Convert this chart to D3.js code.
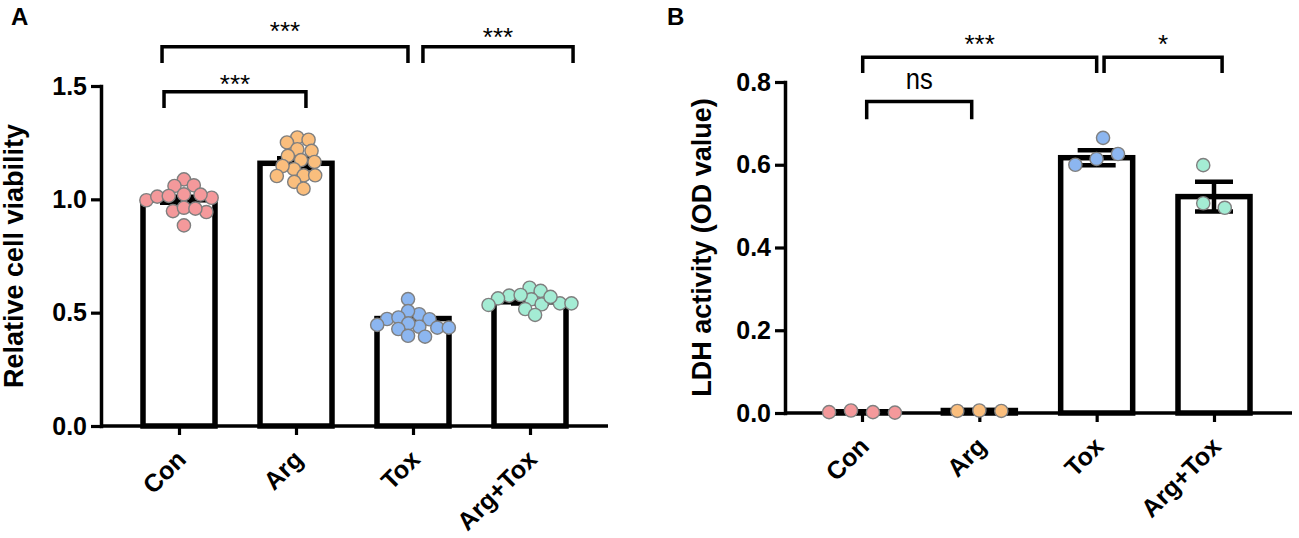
<!DOCTYPE html>
<html><head><meta charset="utf-8">
<script src="https://cdn.jsdelivr.net/npm/d3@7"></script>
<style>body{margin:0;background:#fff} svg{display:block}</style>
</head><body>
<svg id="c" width="1299" height="538"></svg>
<script>
// ---------- DATA ----------
const categories = ["Con", "Arg", "Tox", "Arg+Tox"];
const groupColors = ["#F4999B", "#FABE7D", "#8CB6F0", "#A4ECD4"];

// Panel A: relative cell viability
const viabilityCon = [1.088, 1.062, 1.059, 1.007, 0.996, 1.012, 1.021, 1.022, 1.015, 0.948, 0.963, 0.944, 0.959, 0.885];
const viabilityArg = [1.273, 1.263, 1.251, 1.214, 1.221, 1.192, 1.165, 1.173, 1.133, 1.147, 1.106, 1.103, 1.106, 1.077, 1.047];
const viabilityTox = [0.560, 0.493, 0.507, 0.471, 0.472, 0.479, 0.446, 0.434, 0.438, 0.453, 0.434, 0.428, 0.394, 0.398];
const viabilityArgTox = [0.610, 0.596, 0.559, 0.575, 0.578, 0.563, 0.541, 0.534, 0.537, 0.541, 0.516, 0.490, 0.570];
const viabilityMean = [0.998, 1.159, 0.474, 0.548];
const viabilitySem = [0.013, 0.022, 0.010, 0.008];
const viabilityTicks = [0, 0.5, 1.0, 1.5];
const viabilityMax = 1.5;

// Panel B: LDH activity
const ldhCon = [0.002, 0.006, 0.001, 0.002];
const ldhArg = [0.005, 0.006, 0.005];
const ldhTox = [0.600, 0.626, 0.665, 0.614];
const ldhArgTox = [0.496, 0.599, 0.507];
const ldhMean = [0.003, 0.006, 0.617, 0.523];
const ldhSem = [0.001, 0.001, 0.018, 0.036];
const ldhTicks = [0, 0.2, 0.4, 0.6, 0.8];
const ldhMax = 0.8;

// Significance brackets (ends in category-index units, heights in data units)
const bracketsA = [
  {from: -0.145, to: 1.957, y: 1.673, drop: 0.072, label: "***", labelY: 1.705},
  {from: 2.085, to: 3.368, y: 1.673, drop: 0.072, label: "***", labelY: 1.676},
  {from: -0.128, to: 1.085, y: 1.475, drop: 0.072, label: "***", labelY: 1.470}
];
const bracketsB = [
  {from: 0.006, to: 2.0, y: 0.860, drop: 0.038, label: "***", labelY: 0.869},
  {from: 2.063, to: 3.069, y: 0.860, drop: 0.038, label: "*", labelY: 0.869},
  {from: 0.04, to: 0.935, y: 0.753, drop: 0.043, label: "ns", labelY: 0.782}
];

// ---------- DRAWING ----------
const svg = d3.select("#c");
const FONT = "'Liberation Sans', Arial, Helvetica, sans-serif";

function swarm(vals, y, minDist) {
  const pts = vals.map((v, i) => ({v, py: y(v), i, dx: 0}));
  const order = pts.slice().sort((a, b) => b.v - a.v);
  const placed = [];
  for (const p of order) {
    const blocks = [];
    for (const q of placed) {
      const dy = Math.abs(q.py - p.py);
      if (dy < minDist) {
        const w = Math.sqrt(minDist * minDist - dy * dy);
        blocks.push([q.dx - w, q.dx + w]);
      }
    }
    const cands = [0];
    blocks.forEach(b => cands.push(b[0], b[1]));
    cands.sort((a, b) => Math.abs(a) - Math.abs(b) || b - a);
    for (const c of cands) {
      if (blocks.every(b => c <= b[0] + 1e-6 || c >= b[1] - 1e-6)) { p.dx = c; break; }
    }
    placed.push(p);
  }
  const mn = d3.min(pts, p => p.dx), mx = d3.max(pts, p => p.dx);
  const sh = (mn + mx) / 2;
  pts.forEach(p => p.dx -= sh);
  return pts;
}

function drawPanel(cfg) {
  const g = svg.append("g");
  const x = d3.scaleLinear().domain([0, categories.length - 1]).range([cfg.cx0, cfg.cx1]);
  const y = d3.scaleLinear().domain([0, cfg.ymax]).range([cfg.y0, cfg.y1]);
  const barW = 72;

  // bars
  g.selectAll("rect.bar").data(cfg.means).join("rect")
    .attr("class", "bar")
    .attr("x", (d, i) => x(i) - barW / 2)
    .attr("y", d => y(d))
    .attr("width", barW)
    .attr("height", d => Math.max(0, y(0) - y(d)))
    .attr("fill", "#fff").attr("stroke", "#000").attr("stroke-width", 5.5);

  // error bars
  const eb = g.selectAll("g.eb").data(cfg.means).join("g").attr("class", "eb");
  eb.append("line")
    .attr("x1", (d, i) => x(i)).attr("x2", (d, i) => x(i))
    .attr("y1", (d, i) => y(d - cfg.sem[i])).attr("y2", (d, i) => y(d + cfg.sem[i]))
    .attr("stroke", "#000").attr("stroke-width", 4.5);
  [-1, 1].forEach(s => {
    eb.append("line")
      .attr("x1", (d, i) => x(i) - 19).attr("x2", (d, i) => x(i) + 19)
      .attr("y1", (d, i) => y(d + s * cfg.sem[i])).attr("y2", (d, i) => y(d + s * cfg.sem[i]))
      .attr("stroke", "#000").attr("stroke-width", 4.5);
  });

  // axes
  const axisY = y(0);
  g.append("line").attr("x1", cfg.axisL).attr("x2", cfg.axisR).attr("y1", axisY).attr("y2", axisY)
    .attr("stroke", "#000").attr("stroke-width", 3.5);
  const ya = g.append("g").attr("transform", `translate(${cfg.axisL},0)`)
    .call(d3.axisLeft(y).tickValues(cfg.ticks).tickFormat(d3.format(".1f")).tickSize(10).tickSizeOuter(0).tickPadding(4));
  ya.select(".domain").attr("stroke-width", 3.5).attr("stroke-linecap", "square");
  ya.selectAll(".tick line").attr("stroke-width", 3.2);
  ya.selectAll(".tick text").attr("font-family", FONT).attr("font-weight", "bold").attr("font-size", 25).attr("fill", "#000");

  const xa = g.append("g").attr("transform", `translate(0,${axisY})`)
    .call(d3.axisBottom(x).tickValues(d3.range(categories.length)).tickFormat(i => categories[i]).tickSize(9).tickSizeOuter(0));
  xa.select(".domain").remove();
  xa.selectAll(".tick line").attr("stroke-width", 3.2);
  xa.selectAll(".tick text")
    .attr("font-family", FONT).attr("font-weight", "bold").attr("font-size", 25).attr("fill", "#000")
    .attr("text-anchor", "end").attr("dy", null).attr("y", 0)
    .attr("transform", "translate(8,35) rotate(-45)");

  // dots
  cfg.groups.forEach((vals, gi) => {
    const pts = swarm(vals, y, cfg.minDist);
    g.append("g").selectAll("circle").data(pts).join("circle")
      .attr("cx", p => x(gi) + p.dx)
      .attr("cy", p => p.py)
      .attr("r", 6.6)
      .attr("fill", groupColors[gi])
      .attr("stroke", "#7f7f7f").attr("stroke-width", 1.4);
  });

  // brackets
  cfg.brackets.forEach(b => {
    const x1 = x(b.from), x2 = x(b.to), yy = y(b.y), yb = y(b.y - b.drop);
    g.append("path")
      .attr("d", `M${x1},${yb}V${yy}H${x2}V${yb}`)
      .attr("fill", "none").attr("stroke", "#000").attr("stroke-width", 3.5);
    const t = g.append("text")
      .attr("x", (x1 + x2) / 2).attr("y", y(b.labelY))
      .attr("text-anchor", "middle").attr("font-family", FONT).attr("fill", "#000")
      .text(b.label);
    if (b.label === "ns") {
      t.attr("font-size", 30).attr("textLength", 27).attr("lengthAdjust", "spacingAndGlyphs");
    } else {
      t.attr("font-size", 26);
    }
  });

  // axis title
  g.append("text")
    .attr("transform", `translate(${cfg.titleX},${(cfg.y0 + cfg.y1) / 2}) rotate(-90)`)
    .attr("text-anchor", "middle").attr("font-family", FONT).attr("font-weight", "bold")
    .attr("font-size", 27).attr("fill", "#000")
    .text(cfg.title);

  // panel letter
  g.append("text").attr("x", cfg.letterX).attr("y", 25)
    .attr("font-family", FONT).attr("font-weight", "bold").attr("font-size", 24).attr("fill", "#000")
    .text(cfg.letter);
}

drawPanel({
  letter: "A", letterX: 11,
  title: "Relative cell viability", titleX: 23,
  cx0: 179, cx1: 530, axisL: 101, axisR: 608,
  y0: 426, y1: 86, ymax: viabilityMax, ticks: viabilityTicks,
  means: viabilityMean, sem: viabilitySem,
  groups: [viabilityCon, viabilityArg, viabilityTox, viabilityArgTox],
  minDist: 11.5, brackets: bracketsA
});

drawPanel({
  letter: "B", letterX: 667,
  title: "LDH activity (OD value)", titleX: 711,
  cx0: 862, cx1: 1214, axisL: 785, axisR: 1292,
  y0: 413, y1: 82, ymax: ldhMax, ticks: ldhTicks,
  means: ldhMean, sem: ldhSem,
  groups: [ldhCon, ldhArg, ldhTox, ldhArgTox],
  minDist: 22, brackets: bracketsB
});
</script>
</body></html>
